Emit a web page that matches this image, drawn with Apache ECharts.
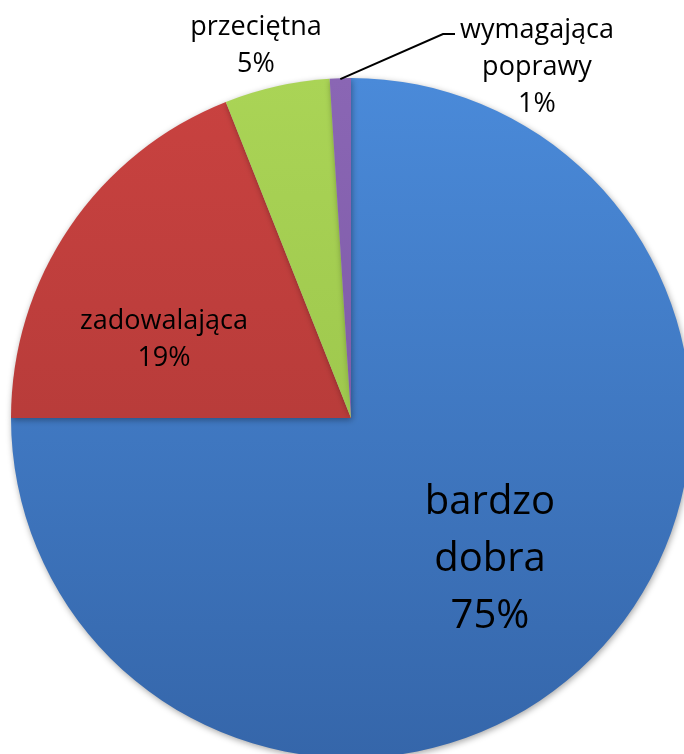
<!DOCTYPE html>
<html>
<head>
<meta charset="utf-8">
<script src="https://cdn.jsdelivr.net/npm/echarts@6/dist/echarts.min.js"></script>
<style>
  html, body { margin: 0; padding: 0; background: #ffffff; }
  #chart { width: 684px; height: 754px; }
</style>
</head>
<body>
<div id="chart"></div>
<script>
// Ocena – udział odpowiedzi
const categories = ['bardzo dobra', 'zadowalająca', 'przeciętna', 'wymagająca poprawy'];
const values = [75, 19, 5, 1];
const labelLines = [['bardzo', 'dobra'], ['zadowalająca'], ['przeciętna'], ['wymagająca', 'poprawy']];

const CX = 351, CY = 418, R = 340;
const FONT = '"Open Sans", "Noto Sans", sans-serif';

function grad(top, bottom) {
  return {
    type: 'linear', x: 0, y: CY - R, x2: 0, y2: CY + R, global: true,
    colorStops: [{ offset: 0, color: top }, { offset: 1, color: bottom }]
  };
}
const fills = [
  grad('#4a8ad9', '#3566aa'),
  grad('#c94240', '#a83634'),
  grad('#aad456', '#93bd45'),
  grad('#8a66b4', '#74529e')
];

// label anchor (centre of the text block) for each slice
const labelPos = [
  { x: 490, y: 560 },
  { x: 164, y: 340 },
  { x: 256, y: 46 },
  { x: 537, y: 67 }
];

const data = categories.map((name, i) => ({
  name,
  value: values[i],
  itemStyle: { color: fills[i] },
  label: i === 0
    ? { fontSize: 40, lineHeight: 57 }
    : { fontSize: 27, lineHeight: 37 }
}));

// leader line for the smallest slice: from the arc at the slice's middle angle
const total = values.reduce((a, b) => a + b, 0);
const smallMid = 360 * (1 - values[3] / total / 2);          // degrees clockwise from 12 o'clock
const smallRad = smallMid * Math.PI / 180;
const arcPt = [CX + R * Math.sin(smallRad), CY - R * Math.cos(smallRad) + 1];
const leader = [arcPt, [443, 34], [455, 34]];

const chart = echarts.init(document.getElementById('chart'), null, { renderer: 'canvas' });
chart.setOption({
  animation: false,
  backgroundColor: '#ffffff',
  graphic: [{
    type: 'polyline',
    z: 10,
    shape: { points: leader },
    style: { stroke: '#000000', lineWidth: 2, fill: null }
  }],
  series: [{
    type: 'pie',
    center: [CX, CY],
    radius: R,
    startAngle: 90,
    clockwise: true,
    avoidLabelOverlap: false,
    data,
    itemStyle: {
      borderWidth: 0,
      shadowBlur: 6,
      shadowOffsetX: 1,
      shadowOffsetY: 2,
      shadowColor: 'rgba(0,0,0,0.35)'
    },
    label: {
      show: true,
      position: 'inside',
      color: '#000000',
      fontFamily: FONT,
      align: 'center',
      formatter: p => labelLines[p.dataIndex].join('\n') + '\n' + Math.round(p.percent) + '%'
    },
    labelLine: { show: false },
    labelLayout: p => {
      const pos = labelPos[p.dataIndex];
      return { x: pos.x, y: pos.y, align: 'center', verticalAlign: 'middle' };
    }
  }]
});
</script>
</body>
</html>
